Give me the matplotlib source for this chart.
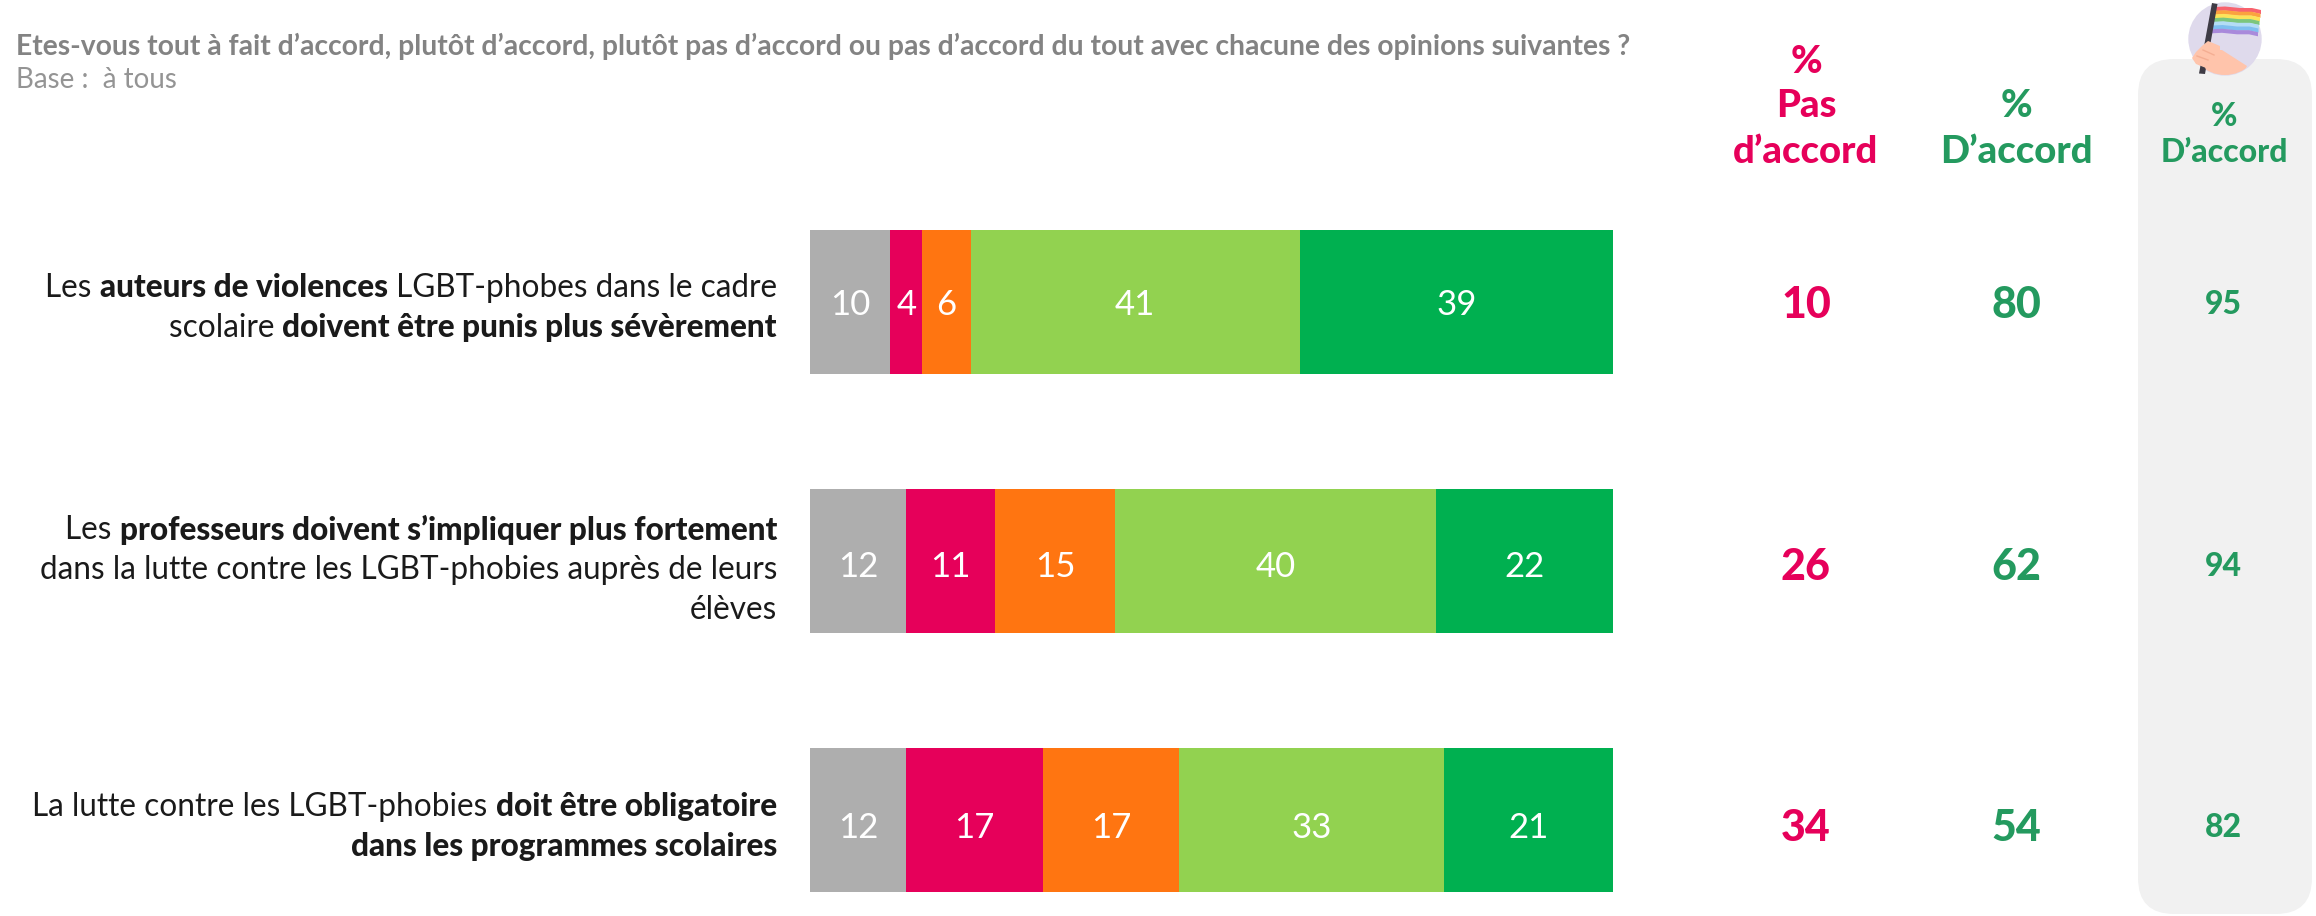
"""Stacked agreement bars with summary columns."""

import matplotlib

matplotlib.use("Agg")
import matplotlib.pyplot as plt
from matplotlib.patches import Circle, FancyBboxPatch, Polygon
import numpy as np

plt.rcParams["font.family"] = ["Lato", "DejaVu Sans"]

W, H = 2316, 916
FONT = "Lato"

TITLE = "Etes-vous tout à fait d’accord, plutôt d’accord, plutôt pas d’accord ou pas d’accord du tout avec chacune des opinions suivantes ?"
BASE = "Base :  à tous"

# (text, bold) runs, one list per line
LABELS = [
    [[("Les ", False), ("auteurs de violences", True), (" LGBT-phobes dans le cadre", False)],
     [("scolaire ", False), ("doivent être punis plus sévèrement", True)]],
    [[("Les ", False), ("professeurs doivent s’impliquer plus fortement", True)],
     [("dans la lutte contre les LGBT-phobies auprès de leurs", False)],
     [("élèves", False)]],
    [[("La lutte contre les LGBT-phobies ", False), ("doit être obligatoire", True)],
     [("dans les programmes scolaires", True)]],
]

NSP = [10, 12, 12]
PAS_DU_TOUT = [4, 11, 17]
PLUTOT_PAS = [6, 15, 17]
PLUTOT = [41, 40, 33]
TOUT_A_FAIT = [39, 22, 21]
SERIES = [NSP, PAS_DU_TOUT, PLUTOT_PAS, PLUTOT, TOUT_A_FAIT]
COLORS = ["#AEAEAE", "#E6005A", "#FF7511", "#92D250", "#00B050"]

TOTAL_PAS = [10, 26, 34]
TOTAL_ACCORD = [80, 62, 54]
TOTAL_LGBT = [95, 94, 82]

PINK = "#E6005A"
GREEN = "#249A5F"
# numbers sit a little lower in the rows further down
NUDGE = [-3, -6, -8]


def draw_runs(px, right, y, runs, size, color):
    # lay bold/light runs from the right edge, measuring each one
    renderer = px.figure.canvas.get_renderer()
    x = right
    for text, bold in reversed(runs):
        t = px.text(x, y, text, ha="right", va="center_baseline", fontsize=size, color=color,
                    fontweight="black" if bold else "normal", fontfamily=FONT)
        x -= t.get_window_extent(renderer).width


def draw_icon(px):
    # small rainbow flag badge above the grey panel
    cx, cy, r = 2225, 39, 36
    px.add_patch(Circle((cx, cy), r, color="#DFDAEC", zorder=3))
    stripes = ["#F8626E", "#FBA23F", "#FCE35A", "#7CC67C", "#B3DDF5", "#7FBFF0", "#A98ADB"]
    xs = np.array([2215, 2225, 2240, 2252, 2261])
    top = np.array([7, 6.5, 8, 8, 10])
    step = 3.7
    for i, c in enumerate(stripes):
        upper = top + i * step
        lower = upper + step + 0.4
        shift = xs - i * 0.5
        pts = np.column_stack([np.r_[shift, shift[::-1]], np.r_[upper, lower[::-1]]])
        px.add_patch(Polygon(pts, color=c, lw=0, zorder=4))
    px.add_patch(Polygon([(2212, 3), (2217.5, 4), (2205, 74), (2199, 73.5)], color="#3E3B45", lw=0, zorder=5))
    arm = Polygon([(2212, 50), (2222, 50), (2247, 66), (2240, 80), (2208, 80), (2204, 62)],
                  color="#FFC4AB", lw=0, zorder=6)
    px.add_patch(arm)
    arm.set_clip_path(Circle((cx, cy), r, transform=px.transData))
    px.add_patch(Polygon([(2202, 46), (2208, 41), (2220, 46), (2220, 54), (2214, 64), (2206, 68), (2196, 64),
                          (2192, 58), (2196, 52)], color="#FFC4AB", lw=0, zorder=7))
    for a, b in [((2203, 50), (2214, 55)), ((2197, 56), (2208, 60))]:
        px.plot(*zip(a, b), color="#F4AE93", lw=1, zorder=8)


fig = plt.figure(figsize=(W / 100, H / 100), dpi=100, facecolor="white")

# overlay in pixel coordinates for text and panel
px = fig.add_axes([0, 0, 1, 1], zorder=1)
px.set_xlim(0, W)
px.set_ylim(H, 0)
px.axis("off")
fig.canvas.draw()

px.add_patch(FancyBboxPatch((2138 + 36, 59 + 36), 174 - 72, 783, boxstyle="round,pad=36,rounding_size=36",
                            fc="#F1F1F1", ec="none", zorder=0))
draw_icon(px)

px.text(16, 44, TITLE, fontsize=20.35, fontweight="bold", color="#838383", va="center_baseline", fontfamily=FONT)
px.text(16, 78, BASE, fontsize=20, color="#949494", va="center_baseline", fontfamily=FONT)

# bars
ax = fig.add_axes([810 / W, 0, 803 / W, 1], zorder=2)
ax.patch.set_alpha(0)
ax.set_xlim(0, 100)
ax.set_ylim(614 / 259, -302 / 259)
ax.axis("off")
rows = np.arange(len(NSP))
left = np.zeros(len(NSP))
for vals, color in zip(SERIES, COLORS):
    bars = ax.barh(rows, vals, 0.555, left=left, color=color, linewidth=0)
    for rect, v, nudge in zip(bars, vals, NUDGE):
        ax.annotate(str(v), (rect.get_x() + rect.get_width() / 2, rect.get_y() + rect.get_height() / 2),
                    xytext=(0, nudge), textcoords="offset pixels", ha="center", va="center", color="white",
                    fontsize=25, fontfamily=FONT)
    left += np.array(vals)

# row labels and summary columns share the bar rows
trans = matplotlib.transforms.blended_transform_factory(px.transData, ax.transData)
starts = [285, 527, 804]
for start, lines in zip(starts, LABELS):
    for i, runs in enumerate(lines):
        draw_runs(px, 777, start + i * 40, runs, 22.7, "#1A1A1A")

for col_x, vals, color, size in [(1806, TOTAL_PAS, PINK, 31), (2016, TOTAL_ACCORD, GREEN, 31),
                                 (2223, TOTAL_LGBT, GREEN, 23)]:
    for r, v, nudge in zip(rows, vals, NUDGE):
        ax.annotate(str(v), (col_x, r), xycoords=trans, xytext=(0, nudge), textcoords="offset pixels", ha="center",
                    va="center", color=color, fontsize=size, fontweight="black", fontfamily=FONT)

# column headers
for col_x, lines, color, size, ys in [
    (1806, ["%", "Pas", "d’accord"], PINK, 27.5, [62, 106, 152]),
    (2016, ["%", "D’accord"], GREEN, 27.5, [106, 152]),
    (2224, ["%", "D’accord"], GREEN, 23, [116, 153]),
]:
    for line, y in zip(lines, ys):
        px.text(col_x, y, line, ha="center", va="center", color=color, fontsize=size, fontweight="black",
                fontfamily=FONT)

fig.savefig("out.png", dpi=100)
